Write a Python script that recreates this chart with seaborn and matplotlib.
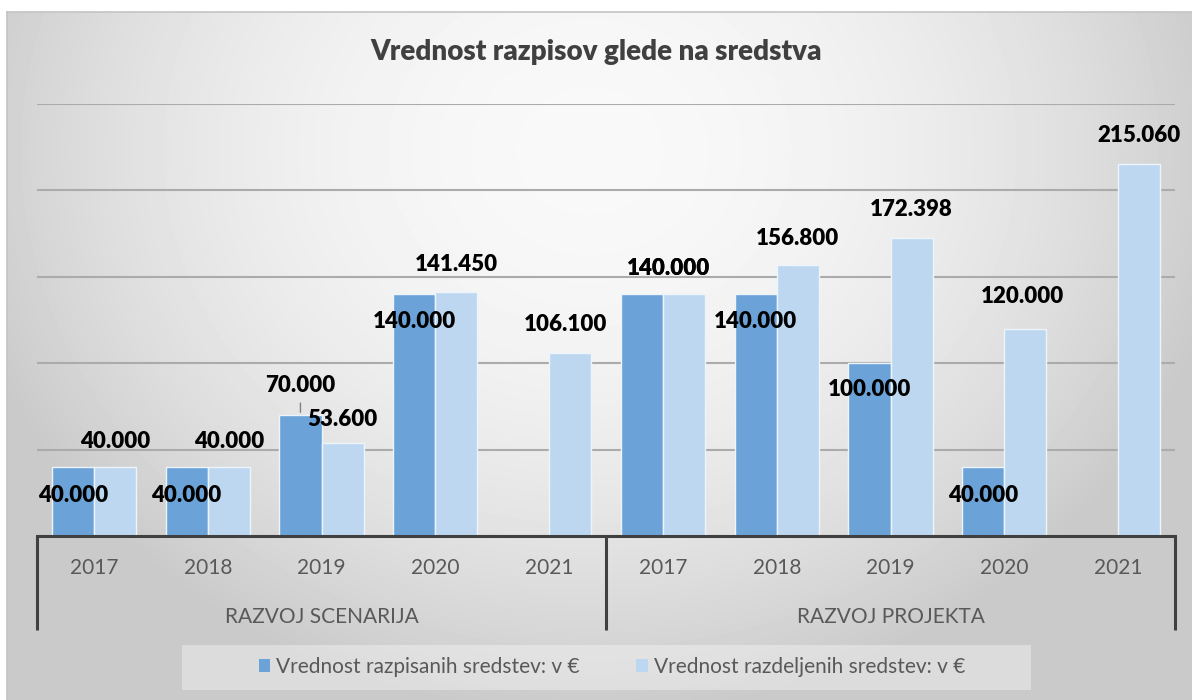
import numpy as np
import pandas as pd
import matplotlib
matplotlib.use("Agg")
import matplotlib.pyplot as plt
import matplotlib.transforms as mtransforms
from matplotlib.patches import Patch, Rectangle
import seaborn as sns

# data
groups = ["RAZVOJ SCENARIJA", "RAZVOJ PROJEKTA"]
years = ["2017", "2018", "2019", "2020", "2021"]
series_names = ["Vrednost razpisanih sredstev: v €", "Vrednost razdeljenih sredstev: v €"]
razpisano = [40000, 40000, 70000, 140000, np.nan,
             140000, 140000, 100000, 40000, np.nan]
razdeljeno = [40000, 40000, 53600, 141450, 106100,
              140000, 156800, 172398, 120000, 215060]

# label placement tweaks (pixels), Excel put them a bit all over the place
dark_dx = [0, 0, 0, 0, 0, 27, 0, 0, 0, 0]
dark_dy = [-29, -29, 30, -27, 0, 26, -27, -26, -29, 0]
light_dx = [0, 0, 0, 0, -5, -15, 0, 0, -3, 0]
light_dy = [25, 25, 24, 27, 28, 26, 27, 29, 32, 29]

cats = [f"{g}|{y}" for g in groups for y in years]
df = pd.DataFrame({
    "cat": cats * 2,
    "serie": [series_names[0]] * len(cats) + [series_names[1]] * len(cats),
    "value": razpisano + razdeljeno,
})

sns.set_theme(style="white")
plt.rcParams["font.family"] = ["Lato", "DejaVu Sans"]

W, H = 1192, 700
fig = plt.figure(figsize=(W / 100, H / 100), dpi=100)

# gradient chart background
bg = fig.add_axes([7 / W, 0, 1 - 7 / W, 1 - 12 / H], zorder=-5)
gx, gy = np.meshgrid(np.linspace(7, W, 300), np.linspace(12, H, 200))
r2 = ((gx - 590) / 640) ** 2 + ((gy - 150) / 560) ** 2
shade = np.clip(0.975 - 0.18 * r2, 0.79, 1)
bg.imshow(shade, cmap="gray", vmin=0, vmax=1, aspect="auto",
          extent=[0, 1, 0, 1], interpolation="bicubic")
bg.set_xticks([])
bg.set_yticks([])
for side in ["right", "bottom"]:
    bg.spines[side].set_visible(False)
for side in ["top", "left"]:
    bg.spines[side].set_color("#c4c4c4")
    bg.spines[side].set_linewidth(1.2)

left, right = 37 / W, 1175 / W
bottom, top = 1 - 536 / H, 1 - 104 / H
ax = fig.add_axes([left, bottom, right - left, top - bottom])
ax.patch.set_alpha(0)

dark = "#6ba3d8"
light = "#bcd7ef"
sns.barplot(data=df, x="cat", y="value", hue="serie", order=cats,
            hue_order=series_names, palette=[dark, light], saturation=1,
            width=0.74, edgecolor="#eef4fb", linewidth=1, ax=ax, legend=False,
            zorder=2)

ax.set_xlim(-0.5, len(cats) - 0.5)
ax.set_ylim(0, 250000)
ax.set_yticks(np.arange(0, 250001, 50000))
ax.set_yticklabels([])
ax.yaxis.grid(True, color="#ababab", linewidth=1.5)
ax.set_axisbelow(True)
ax.set_xlabel("")
ax.set_ylabel("")
for side in ["top", "left", "right"]:
    ax.spines[side].set_visible(False)
ax.spines["bottom"].set_color("#404040")
ax.spines["bottom"].set_linewidth(2.2)
ax.tick_params(axis="both", length=0)
ax.set_xticks(range(len(cats)))
ax.set_xticklabels(years * 2, fontsize=15, color="#595959")
ax.tick_params(axis="x", pad=16)

# data labels
lbl = dict(fontsize=16, fontweight="heavy", color="black", ha="center", va="center",
           textcoords="offset pixels", zorder=5)
for ci, (vals, dxs, dys) in enumerate([(razpisano, dark_dx, dark_dy),
                                       (razdeljeno, light_dx, light_dy)]):
    for bar in ax.containers[ci]:
        h = bar.get_height()
        if np.isnan(h) or h == 0:
            continue
        cx = bar.get_x() + bar.get_width() / 2
        k = int(round(cx))
        txt = f"{vals[k]:,.0f}".replace(",", ".")
        extra = {}
        if ci == 0 and k == 2:
            extra["arrowprops"] = dict(arrowstyle="-", color="#808080", lw=1,
                                       shrinkA=3, shrinkB=2)
        ax.annotate(txt, xy=(cx, h), xytext=(dxs[k], dys[k]), **lbl, **extra)

# category group labels and separators under the axis
ax_h = (top - bottom) * H
trans = mtransforms.blended_transform_factory(ax.transData, ax.transAxes)
for x in [-0.5, 4.5, 9.5]:
    ax.plot([x, x], [0, -94 / ax_h], transform=trans, color="#404040",
            lw=2.2, clip_on=False, solid_capstyle="butt")
for gi, g in enumerate(groups):
    ax.annotate(g, xy=(gi * 5 + 2, 0), xycoords=trans, xytext=(0, -81),
                textcoords="offset pixels", ha="center", va="center",
                fontsize=15, color="#595959")

fig.text(0.5, 1 - 52 / H, "Vrednost razpisov glede na sredstva", ha="center",
         va="center", fontsize=20, fontweight="heavy", color="#404040")

# legend
fig.patches.append(Rectangle((182 / W, 1 - 690 / H), (1031 - 182) / W, 45 / H,
                             transform=fig.transFigure, facecolor="white",
                             alpha=0.35, edgecolor="none", zorder=0))
handles = [Patch(facecolor=dark, edgecolor="none"), Patch(facecolor=light, edgecolor="none")]
fig.legend(handles, series_names, loc="center", bbox_to_anchor=(612 / W, 1 - 667 / H),
           ncol=2, frameon=False, fontsize=15, labelcolor="#595959",
           handlelength=0.55, handleheight=0.55, handletextpad=0.3, columnspacing=2.7)

plt.savefig("out.png", dpi=100)
plt.close()
